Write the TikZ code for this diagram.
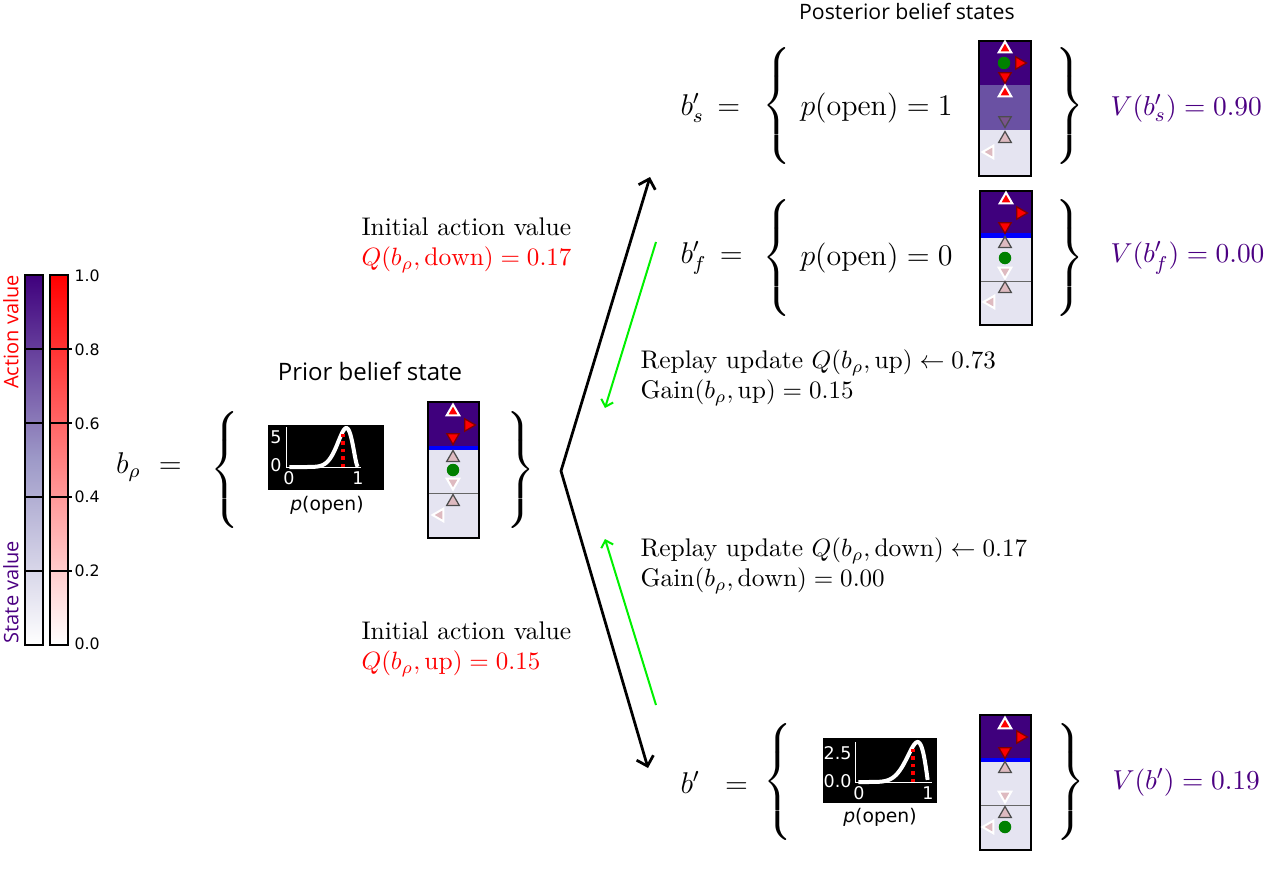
\documentclass[tikz,border=0pt]{standalone}
\usepackage{amsmath}
\usepackage{amssymb}
\usepackage{fontspec}
\setsansfont{Open Sans}
\newfontfamily\dejavu{DejaVu Sans}
\usetikzlibrary{shapes.geometric,arrows.meta}

\definecolor{valhi}{RGB}{63,0,125}
\definecolor{valmid}{RGB}{106,81,163}
\definecolor{vallo}{RGB}{229,228,241}
\definecolor{cbmid}{RGB}{158,154,200}
\definecolor{pinkq}{RGB}{222,186,192}
\definecolor{purpq}{RGB}{122,82,142}
\definecolor{agentc}{RGB}{0,128,0}
\definecolor{gainc}{RGB}{0,240,0}
\definecolor{valtxt}{RGB}{75,0,130}

\newcommand{\lbrc}{$\left\{\rule[-15.5pt]{0pt}{36pt}\right.$}
\newcommand{\rbrc}{$\left.\rule[-15.5pt]{0pt}{36pt}\right\}$}

\tikzset{
  tri/.style={regular polygon, regular polygon sides=3, minimum size=5.8pt, inner sep=0pt, line width=0.5pt},
  upB/.style={tri, yshift=-0.7pt, fill=red, draw=white, line width=0.8pt},
  rtA/.style={tri, xshift=-0.7pt, regular polygon rotate=-90, fill=red, draw=red!50!black},
  dnA/.style={tri, yshift=0.7pt, regular polygon rotate=180, fill=red, draw=red!50!black},
  upL/.style={tri, yshift=-0.7pt, fill=pinkq, draw=black!70},
  dnW/.style={tri, yshift=0.7pt, regular polygon rotate=180, fill=pinkq, draw=white, line width=0.8pt},
  ltW/.style={tri, xshift=0.7pt, regular polygon rotate=90, fill=pinkq, draw=white, line width=0.8pt},
  dnP/.style={tri, yshift=0.7pt, regular polygon rotate=180, fill=purpq, draw=black!70},
  ag/.style={circle, fill=agentc, inner sep=0pt, minimum size=5pt},
  note/.style={align=left, anchor=west, inner sep=0pt, font=\fontsize{10.2}{12}\selectfont},
  big/.style={inner sep=0pt, font=\large},
  val/.style={inner sep=0pt, anchor=west, text=valtxt, font=\fontsize{11}{13}\selectfont},
  head/.style={font=\sffamily\fontsize{9}{11}\selectfont},
  tick/.style={anchor=west, inner sep=0pt, font=\dejavu\fontsize{6.3}{7}\selectfont},
  plotlbl/.style={inner sep=0pt, text=white, font=\dejavu\fontsize{7}{8}\selectfont},
  plotcap/.style={inner sep=0pt, font=\dejavu\fontsize{7.5}{9}\selectfont},
  curve/.style={white, line width=1.6pt, samples=70},
  mean/.style={red, line width=1.4pt, dash pattern=on 1.4pt off 1.6pt},
  brc/.style={inner sep=0pt, scale=1.29}
}

\begin{document}
\begin{tikzpicture}[x=0.4pt,y=-0.4pt]
\useasboundingbox (0,0) rectangle (1269,880);

\shade[bottom color=white, top color=valhi, middle color=cbmid] (25,275) rectangle (43,645);
\shade[bottom color=white, top color=red] (50,275) rectangle (68,645);
\foreach \y in {349,423,497,571} \draw[line width=0.5pt] (25,\y) -- (43,\y) (50,\y) -- (72,\y);
\draw[line width=0.6pt] (25,275) rectangle (43,645);
\draw[line width=0.6pt] (50,275) rectangle (68,645);
\foreach \v/\y [count=\i] in {1.0/276,0.8/350,0.6/424,0.4/497,0.2/571,0.0/644}
  \node[tick] (tk\i) at (74,\y) {\v};
\node[head, rotate=90, text=red, font=\sffamily\fontsize{8}{9}\selectfont] (actlbl) at (11,332) {Action value};
\node[head, rotate=90, text=valtxt, font=\sffamily\fontsize{8}{9}\selectfont] (statelbl) at (11,592) {State value};

\node[big] (brho) at (149,467) {$b_{\rho}~=$};
\node[brc] (lbr) at (227,470) {\lbrc};
\node[brc] (rbr) at (519,470) {\rbrc};
\node[head, font=\sffamily\fontsize{9.6}{11}\selectfont] (prior) at (370,371) {Prior belief state};

\fill[black] (268,425) rectangle (384,490);
\draw[white, line width=0.4pt] (286,427) -- (286,467) -- (361,467);
\draw[curve, domain=0.02:0.995] plot ({288+70*\x}, {467-39*(\x/0.833)^10*((1-\x)/0.167)^2});
\draw[mean] (343,467) -- (343,431);
\node[plotlbl, anchor=east] (py5) at (282,437) {5};
\node[plotlbl, anchor=east] (py0) at (282,465) {0};
\node[plotlbl] (px0) at (289,478) {0};
\node[plotlbl] (px1) at (358,478) {1};
\node[plotcap] (popen) at (327,505) {\textit{p}(open)};

\fill[valhi] (428,402) rectangle (479,446);
\fill[blue] (428,446) rectangle (479,450);
\fill[vallo] (428,450) rectangle (479,538);
\draw[black!60] (428,493) -- (479,493);
\draw[line width=0.6pt] (428,402) rectangle (479,538);
\foreach \s/\x/\y [count=\i] in {upB/453/410, rtA/470/425, dnA/453/439, upL/453/456, ag/453/470, dnW/453/484, upL/453/500, ltW/438/515}
  \node[\s] (pr\i) at (\x,\y) {};

\node[head, font=\sffamily\fontsize{8.5}{10}\selectfont] (post) at (907,11) {Posterior belief states};

\node[big, anchor=west] (bs) at (680,108) {$b'_s\,=$};
\node[brc] (lbs) at (779,106) {\lbrc};
\node[big, anchor=west] (ps) at (800,108) {$p(\mathrm{open}) = 1$};
\fill[valhi] (979,41) rectangle (1031,85);
\fill[valmid] (979,85) rectangle (1031,130);
\fill[vallo] (979,130) rectangle (1031,176);
\draw[line width=0.6pt] (979,41) rectangle (1031,176);
\foreach \s/\x/\y [count=\i] in {upB/1005/47, ag/1004/63, rtA/1021/63, dnA/1005/78, upB/1005/91, dnP/1005/122, upL/1005/137, ltW/988/152}
  \node[\s] (ms\i) at (\x,\y) {};
\node[brc] (rbs) at (1068,106) {\rbrc};
\node[val] (vs) at (1110,108) {$V(b'_s) = 0.90$};

\node[big, anchor=west] (bf) at (680,258) {$b'_f\,=$};
\node[brc] (lbf) at (779,258) {\lbrc};
\node[big, anchor=west] (pf) at (800,258) {$p(\mathrm{open}) = 0$};
\fill[valhi] (980,191) rectangle (1032,233);
\fill[blue] (980,233) rectangle (1032,238);
\fill[vallo] (980,238) rectangle (1032,325);
\draw[black!60] (980,281) -- (1032,281);
\draw[line width=0.6pt] (980,191) rectangle (1032,325);
\foreach \s/\x/\y [count=\i] in {upB/1006/198, rtA/1022/213, dnA/1005/228, upL/1005/242, ag/1005/258, dnW/1005/273, upL/1005/287, ltW/989/302}
  \node[\s] (mf\i) at (\x,\y) {};
\node[brc] (rbf) at (1068,258) {\rbrc};
\node[val] (vf) at (1110,258) {$V(b'_f) = 0.00$};

\node[big, anchor=west] (bn) at (680,782) {$b'\;\;=$};
\node[brc] (lbn) at (780,782) {\lbrc};
\fill[black] (823,738) rectangle (937,803);
\draw[white, line width=0.4pt] (855,742) -- (855,782) -- (932,782);
\draw[curve, domain=0.02:0.995] plot ({857+71*\x}, {782-40*(\x/0.854)^7*((1-\x)/0.146)^1.2});
\draw[mean] (913,782) -- (913,746);
\node[plotlbl, anchor=east] (qy25) at (852,753) {2.5};
\node[plotlbl, anchor=east] (qy0) at (852,781) {0.0};
\node[plotlbl] (qx0) at (859,793) {0};
\node[plotlbl] (qx1) at (928,793) {1};
\node[plotcap] (popen2) at (880,817) {\textit{p}(open)};
\fill[valhi] (980,715) rectangle (1031,758);
\fill[blue] (980,758) rectangle (1031,762);
\fill[vallo] (980,762) rectangle (1031,850);
\draw[black!60] (980,805) -- (1031,805);
\draw[line width=0.6pt] (980,715) rectangle (1031,850);
\foreach \s/\x/\y [count=\i] in {upB/1005/723, rtA/1022/737, dnA/1005/753, upL/1005/767, dnW/1005/797, upL/1005/812, ltW/988/827, ag/1005/827}
  \node[\s] (mn\i) at (\x,\y) {};
\node[brc] (rbn) at (1069,782) {\rbrc};
\node[val] (vn) at (1112,782) {$V(b') = 0.19$};

\coordinate (fork) at (561,471);
\coordinate (upend) at (650,177);
\coordinate (dnend) at (648,768);
\draw[line width=1.1pt, {Straight Barb[length=3.5pt,width=7pt]}-{Straight Barb[length=3.5pt,width=7pt]}] (upend) -- (fork) -- (dnend);
\coordinate (g1a) at (656,242);
\coordinate (g1b) at (605,408);
\coordinate (g2a) at (656,705);
\coordinate (g2b) at (605,539);
\draw[gainc, line width=0.8pt, -{Straight Barb[length=2.5pt,width=5pt]}] (g1a) -- (g1b);
\draw[gainc, line width=0.8pt, -{Straight Barb[length=2.5pt,width=5pt]}] (g2a) -- (g2b);

\node[note] (qdown) at (361,245) {Initial action value\\ \textcolor{red}{$Q(b_\rho, \mathrm{down}) = 0.17$}};
\node[note] (qup) at (361,649) {Initial action value\\ \textcolor{red}{$Q(b_\rho, \mathrm{up}) = 0.15$}};
\node[note] (rup) at (640,378) {Replay update $Q(b_\rho, \mathrm{up}) \leftarrow 0.73$\\ $\mathrm{Gain}(b_\rho, \mathrm{up}) = 0.15$};
\node[note] (rdown) at (640,566) {Replay update $Q(b_\rho, \mathrm{down}) \leftarrow 0.17$\\ $\mathrm{Gain}(b_\rho, \mathrm{down}) = 0.00$};
\end{tikzpicture}
\end{document}
